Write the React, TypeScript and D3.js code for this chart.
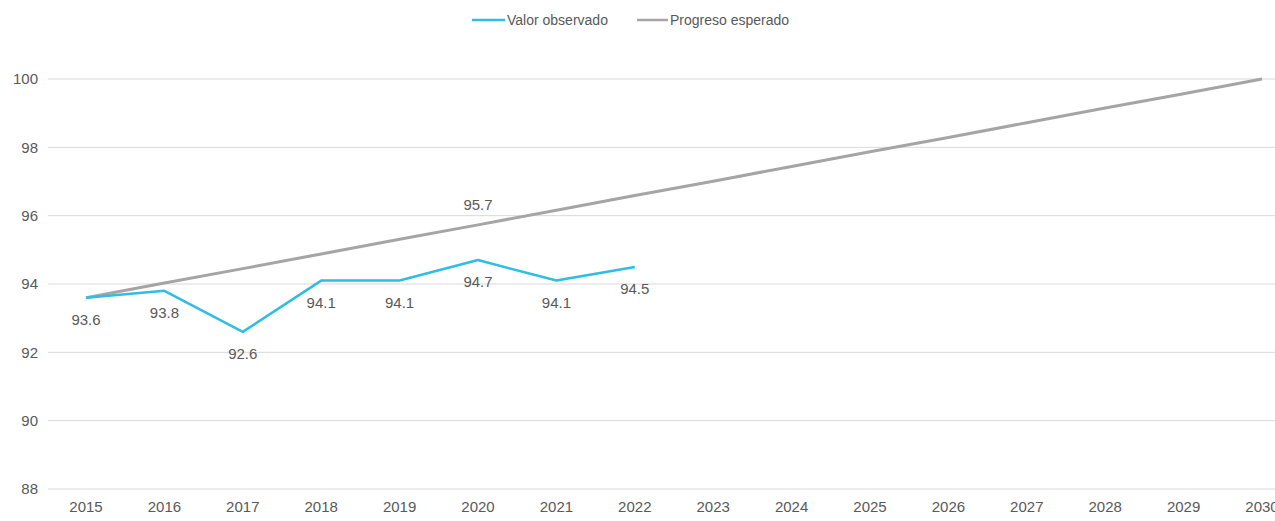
import React from "react";
import * as d3 from "d3";

const years = ["2015","2016","2017","2018","2019","2020","2021","2022","2023","2024","2025","2026","2027","2028","2029","2030"];
const observedYears = ["2015","2016","2017","2018","2019","2020","2021","2022"];
const observed = [93.6, 93.8, 92.6, 94.1, 94.1, 94.7, 94.1, 94.5];
const expected = [93.6, 94.03, 94.45, 94.88, 95.31, 95.73, 96.16, 96.59, 97.01, 97.44, 97.87, 98.29, 98.72, 99.15, 99.57, 100];
const expectedLabelYears = ["2020"];
const yTicks = [88, 90, 92, 94, 96, 98, 100];

const W = 1275, H = 521;
const FONT = "'Liberation Sans Narrow', 'Arial Narrow', 'Liberation Sans', Arial, sans-serif";
const TEXT = "#595959";
const BLUE = "#2DBDE6";
const GRAY = "#A5A5A5";

export default function App() {
  const x = d3.scalePoint<string>().domain(years).range([86, 1262]);
  const y = d3.scaleLinear().domain([88, 100]).range([489, 79]);
  const gridX0 = 48, gridX1 = 1275;

  const line = d3.line<[string, number]>().x(d => x(d[0])!).y(d => y(d[1]));
  const obsPts: [string, number][] = observedYears.map((yr, i) => [yr, observed[i]]);
  const expPts: [string, number][] = years.map((yr, i) => [yr, expected[i]]);

  return (
    <svg width={W} height={H} style={{ position: "absolute", left: 0, top: 0, background: "#fff" }} fontFamily={FONT}>
      {/* gridlines */}
      {yTicks.map(t => (
        <line key={t} x1={gridX0} x2={gridX1} y1={y(t)} y2={y(t)} stroke="#D9D9D9" strokeWidth={1} />
      ))}
      {/* y tick labels */}
      {yTicks.map(t => (
        <text key={"yl" + t} x={38} y={y(t)} dy="0.35em" textAnchor="end" fontSize={15} fill={TEXT}>{t}</text>
      ))}
      {/* x tick labels */}
      {years.map(yr => (
        <text key={"xl" + yr} x={x(yr)!} y={512} textAnchor="middle" fontSize={15} fill={TEXT}>{yr}</text>
      ))}
      {/* expected line */}
      <path d={line(expPts)!} fill="none" stroke={GRAY} strokeWidth={3} strokeLinejoin="round" />
      {/* observed line */}
      <path d={line(obsPts)!} fill="none" stroke={BLUE} strokeWidth={2.5} strokeLinejoin="round" />
      {/* expected labels */}
      {years.map((yr, i) => expectedLabelYears.includes(yr) ? (
        <text key={"el" + yr} x={x(yr)!} y={y(expected[i]) - 15} textAnchor="middle" fontSize={15} fill={TEXT}>{expected[i].toFixed(1)}</text>
      ) : null)}
      {/* observed labels */}
      {observedYears.map((yr, i) => (
        <text key={"ol" + yr} x={x(yr)!} y={y(observed[i]) + 27} textAnchor="middle" fontSize={15} fill={TEXT}>{observed[i].toFixed(1)}</text>
      ))}
      {/* legend */}
      <g>
        <line x1={472} x2={505} y1={20} y2={20} stroke={BLUE} strokeWidth={2.5} />
        <text x={507} y={20} dy="0.35em" fontSize={14} fill={TEXT}>Valor observado</text>
        <line x1={637} x2={668} y1={20} y2={20} stroke={GRAY} strokeWidth={2.5} />
        <text x={670} y={20} dy="0.35em" fontSize={14} fill={TEXT}>Progreso esperado</text>
      </g>
    </svg>
  );
}
